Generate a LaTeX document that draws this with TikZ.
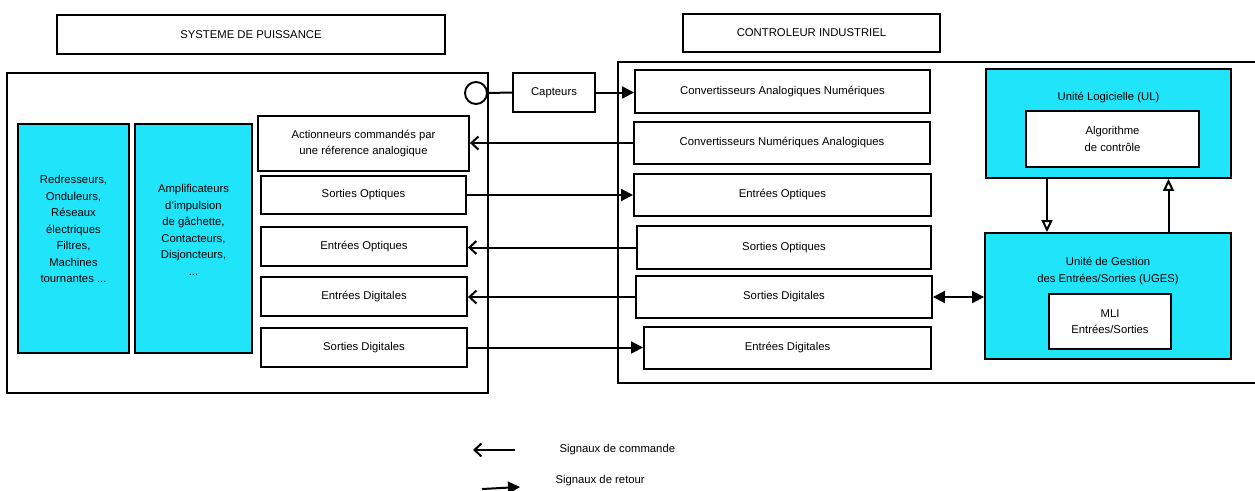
\documentclass[tikz,border=0pt]{standalone}
\usepackage{fontspec}
\setmainfont{Liberation Sans}
\usetikzlibrary{arrows.meta}
\definecolor{cyanfill}{RGB}{32,229,250}
\begin{document}
\begin{tikzpicture}[x=1pt,y=-1pt,
  font=\fontsize{11.3}{16.5}\selectfont,
  box/.style={draw, line width=1.9pt, align=center, inner sep=0pt, fill=white},
  titlebox/.style={draw, line width=1.4pt, inner sep=0pt},
  cbox/.style={draw, line width=1.9pt, inner sep=0pt, fill=cyanfill},
  frame/.style={draw, line width=1.6pt, inner sep=0pt},
  cmd/.style={line width=2pt, -{Straight Barb[length=7pt,width=13pt]}},
  ret/.style={line width=2pt, -{Triangle[length=12pt,width=12pt]}},
  hol/.style={line width=2pt, -{Triangle[open,length=12pt,width=11pt]}},
  both/.style={line width=2pt, {Triangle[length=12pt,width=12pt]}-{Triangle[length=12pt,width=12pt]}},
]
\useasboundingbox (0,0) rectangle (1255,490);
\fill[white] (0,0) rectangle (1255,490);

% titles
\node[titlebox, minimum width=388pt, minimum height=39pt] (tl) at (251,34.5) {SYSTEME DE PUISSANCE};
\node[titlebox, minimum width=257pt, minimum height=38pt] (tr) at (811.5,33) {CONTROLEUR INDUSTRIEL};

% frames
\node[frame, line width=1.9pt, minimum width=481pt, minimum height=320pt] (psys) at (247.5,233) {};
\node[frame, minimum width=644pt, minimum height=321pt] (ctrl) at (940,222.5) {};

% power system side
\node[cbox, minimum width=111pt, minimum height=229pt] (red) at (73.5,238.5) {};
\node[align=center] (redt) at (73.5,229) {Redresseurs,\\Onduleurs,\\Réseaux\\électriques\\Filtres,\\Machines\\tournantes ...};
\node[cbox, minimum width=117pt, minimum height=229pt] (amp) at (193.5,238.5) {};
\node[align=center] (ampt) at (193.5,230) {Amplificateurs\\d'impulsion\\de gâchette,\\Contacteurs,\\Disjoncteurs,\\...};

\node[box, minimum width=211pt, minimum height=55pt] (act) at (363.5,143.5) {Actionneurs commandés par\\une réference analogique};
\node[box, minimum width=205pt, minimum height=38pt] (sol) at (363.5,195) {Sorties Optiques};
\node[box, minimum width=206pt, minimum height=39pt] (eol) at (364,246.5) {Entrées Optiques};
\node[box, minimum width=206pt, minimum height=39pt] (edl) at (364,296.5) {Entrées Digitales};
\node[box, minimum width=206pt, minimum height=39pt] (sdl) at (364,347.5) {Sorties Digitales};

\node[draw, circle, line width=1.9pt, minimum size=22pt, inner sep=0pt, fill=white] (circ) at (476,93) {};
\node[box, minimum width=82pt, minimum height=39pt] (capt) at (554,92.5) {Capteurs};

% controller side
\node[box, minimum width=295pt, minimum height=43pt] (can) at (782.5,91.5) {Convertisseurs Analogiques Numériques};
\node[box, minimum width=296pt, minimum height=42pt] (cna) at (782,143) {Convertisseurs Numériques Analogiques};
\node[box, minimum width=297pt, minimum height=42pt] (eor) at (782.5,195) {Entrées Optiques};
\node[box, minimum width=294pt, minimum height=43pt] (sor) at (784,247.5) {Sorties Optiques};
\node[box, minimum width=296pt, minimum height=42pt] (sdr) at (784,297) {Sorties Digitales};
\node[box, minimum width=287pt, minimum height=42pt] (edr) at (787.5,348) {Entrées Digitales};

\node[cbox, minimum width=245pt, minimum height=109pt] (ul) at (1108.5,123.5) {};
\node (ult) at (1108.5,98) {Unité Logicielle (UL)};
\node[box, minimum width=173pt, minimum height=56pt] (algo) at (1112.5,139) {Algorithme\\de contrôle};
\node[cbox, minimum width=246pt, minimum height=126pt] (uges) at (1108,296) {};
\node[align=center] (ugest) at (1108,271) {Unité de Gestion\\des Entrées/Sorties (UGES)};
\node[box, minimum width=122pt, minimum height=55pt] (mli) at (1110,321.5) {MLI\\Entrées/Sorties};

% connectors
\draw[line width=2pt] (circ.east) -- (capt.west);
\draw[ret] (capt.east) -- (can.west |- capt.east);
\draw[cmd] (cna.west) -- (act.east |- cna.west);
\draw[ret] (sol.east) -- (eor.west |- sol.east);
\draw[cmd] (sor.west) -- (eol.east |- sor.west);
\draw[cmd] (sdr.west) -- (edl.east |- sdr.west);
\draw[ret] (sdl.east) -- (edr.west |- sdl.east);
\draw[both] (sdr.east) -- (uges.west |- sdr.east);
\draw[hol] ([xshift=-61.5pt]ul.south) -- ([xshift=-61.5pt]ul.south |- uges.north);
\draw[hol] ([xshift=60.5pt]uges.north) -- ([xshift=60.5pt]uges.north |- ul.south);

% legend
\coordinate (lc1) at (515,450);
\coordinate (lc2) at (473,450);
\draw[cmd] (lc1) -- (lc2);
\node[anchor=west] (lcmd) at (556,450) {Signaux de commande};
\coordinate (lr1) at (482,489);
\coordinate (lr2) at (520,487);
\draw[ret] (lr1) -- (lr2);
\node[anchor=west] (lret) at (552,481) {Signaux de retour};
\end{tikzpicture}
\end{document}
